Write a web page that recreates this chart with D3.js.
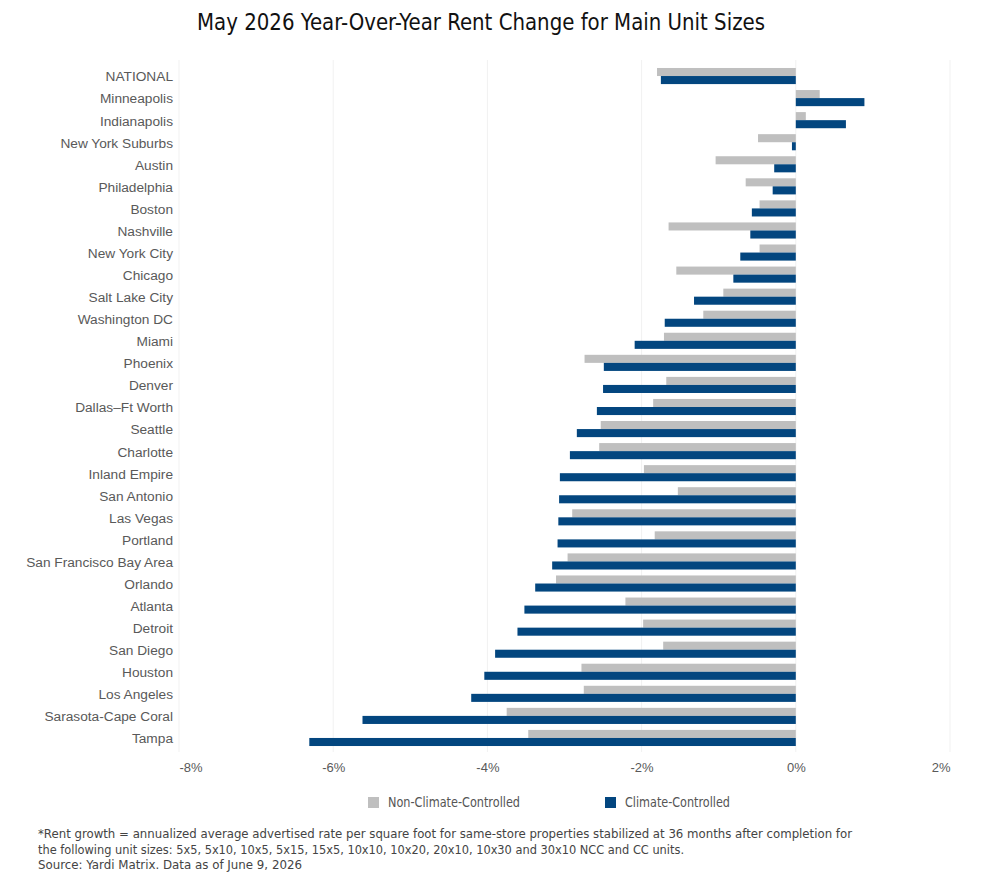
<!DOCTYPE html>
<html>
<head>
<meta charset="utf-8">
<script src="https://cdn.jsdelivr.net/npm/d3@7"></script>
<style>
  body { margin: 0; background: #fff; }
  svg { display: block; }
</style>
</head>
<body>
<div id="chart"></div>
<script>
// markets, top to bottom
var markets = ["NATIONAL", "Minneapolis", "Indianapolis", "New York Suburbs", "Austin",
  "Philadelphia", "Boston", "Nashville", "New York City", "Chicago", "Salt Lake City",
  "Washington DC", "Miami", "Phoenix", "Denver", "Dallas\u2013Ft Worth", "Seattle",
  "Charlotte", "Inland Empire", "San Antonio", "Las Vegas", "Portland",
  "San Francisco Bay Area", "Orlando", "Atlanta", "Detroit", "San Diego", "Houston",
  "Los Angeles", "Sarasota-Cape Coral", "Tampa"];

// year-over-year change, %
var nonClimate = [-1.80, 0.31, 0.13, -0.49, -1.04, -0.65, -0.47, -1.65, -0.47, -1.55,
  -0.94, -1.20, -1.71, -2.74, -1.68, -1.85, -2.53, -2.55, -1.97, -1.53, -2.90, -1.83,
  -2.96, -3.11, -2.21, -1.98, -1.72, -2.78, -2.75, -3.75, -3.47];
var climate = [-1.75, 0.89, 0.65, -0.05, -0.28, -0.30, -0.57, -0.59, -0.72, -0.81,
  -1.32, -1.70, -2.09, -2.49, -2.50, -2.58, -2.84, -2.93, -3.06, -3.07, -3.08, -3.09,
  -3.16, -3.38, -3.52, -3.61, -3.90, -4.04, -4.21, -5.62, -6.31];

var seriesNames = ["Non-Climate-Controlled", "Climate-Controlled"];
var seriesColors = ["#bfbfbf", "#03467f"];
var xTicks = [-8, -6, -4, -2, 0, 2];

var footnotes = [
  "*Rent growth = annualized average advertised rate per square foot for same-store properties stabilized at 36 months after completion for",
  "the following unit sizes: 5x5, 5x10, 10x5, 5x15, 15x5, 10x10, 10x20, 20x10, 10x30 and 30x10 NCC and CC units.",
  "Source: Yardi Matrix. Data as of June 9, 2026"
];
var footWidths = [814, 646, 264];

var width = 988, height = 892;
var condensed = "'DejaVu Sans Condensed', 'DejaVu Sans', sans-serif";

var svg = d3.select("#chart").append("svg")
  .attr("width", width)
  .attr("height", height);

svg.append("rect").attr("width", width).attr("height", height).attr("fill", "#fff");

svg.append("text")
  .attr("x", 197).attr("y", 30)
  .attr("textLength", 568).attr("lengthAdjust", "spacingAndGlyphs")
  .style("font-family", condensed)
  .style("font-size", "23px")
  .attr("fill", "#111")
  .text("May 2026 Year-Over-Year Rent Change for Main Unit Sizes");

var x = d3.scaleLinear().domain([-8, 2]).range([179, 950]);

var y = d3.scaleBand()
  .domain(markets)
  .range([65, 749])
  .paddingInner(0.27)
  .paddingOuter(0.135);

var ySub = d3.scaleBand()
  .domain(seriesNames)
  .range([0, y.bandwidth()]);

// gridlines
svg.append("g").selectAll("line")
  .data(xTicks)
  .join("line")
  .attr("x1", d => x(d)).attr("x2", d => x(d))
  .attr("y1", 60).attr("y2", 752)
  .attr("stroke", "#f1f1f1")
  .attr("stroke-width", 1);

// x axis labels
var xAxis = svg.append("g")
  .attr("transform", "translate(0,760)")
  .call(d3.axisBottom(x).tickValues(xTicks).tickFormat(d => d + "%").tickSize(0));
xAxis.select(".domain").remove();
xAxis.selectAll("text")
  .style("font-family", "'Liberation Sans', Arial, sans-serif")
  .style("font-size", "13px")
  .attr("fill", "#595959")
  .attr("text-anchor", (d, i) => i === 0 ? "start" : (i === xTicks.length - 1 ? "end" : "middle"));

// category labels
var yAxis = svg.append("g")
  .attr("transform", "translate(179,1)")
  .call(d3.axisLeft(y).tickSize(0).tickPadding(6));
yAxis.select(".domain").remove();
yAxis.selectAll("text")
  .style("font-family", "'Liberation Sans', Arial, sans-serif")
  .style("font-size", "13.7px")
  .attr("fill", "#595959");

// bars
var rows = markets.map((m, i) => ({ market: m, values: [nonClimate[i], climate[i]] }));

var groups = svg.append("g").selectAll("g")
  .data(rows)
  .join("g")
  .attr("transform", d => "translate(0," + y(d.market) + ")");

groups.selectAll("rect")
  .data(d => d.values.map((v, j) => ({ key: seriesNames[j], value: v, color: seriesColors[j] })))
  .join("rect")
  .attr("x", d => x(Math.min(0, d.value)))
  .attr("width", d => Math.abs(x(d.value) - x(0)))
  .attr("y", d => ySub(d.key))
  .attr("height", ySub.bandwidth())
  .attr("fill", d => d.color);

// legend
var legendX = [368, 605];
var legendW = [132, 105];
var legend = svg.append("g").selectAll("g")
  .data(seriesNames)
  .join("g")
  .attr("transform", (d, i) => "translate(" + legendX[i] + ",797)");
legend.append("rect")
  .attr("width", 11).attr("height", 11)
  .attr("fill", (d, i) => seriesColors[i]);
legend.append("text")
  .attr("x", 20).attr("y", 10)
  .attr("textLength", (d, i) => legendW[i]).attr("lengthAdjust", "spacingAndGlyphs")
  .style("font-family", condensed)
  .style("font-size", "14px")
  .attr("fill", "#555")
  .text(d => d);

// footnotes
svg.append("g").selectAll("text")
  .data(footnotes)
  .join("text")
  .attr("x", 38)
  .attr("y", (d, i) => 838 + i * 15.5)
  .attr("textLength", (d, i) => footWidths[i]).attr("lengthAdjust", "spacingAndGlyphs")
  .style("font-family", condensed)
  .style("font-size", "12px")
  .attr("fill", "#444")
  .text(d => d);
</script>
</body>
</html>
